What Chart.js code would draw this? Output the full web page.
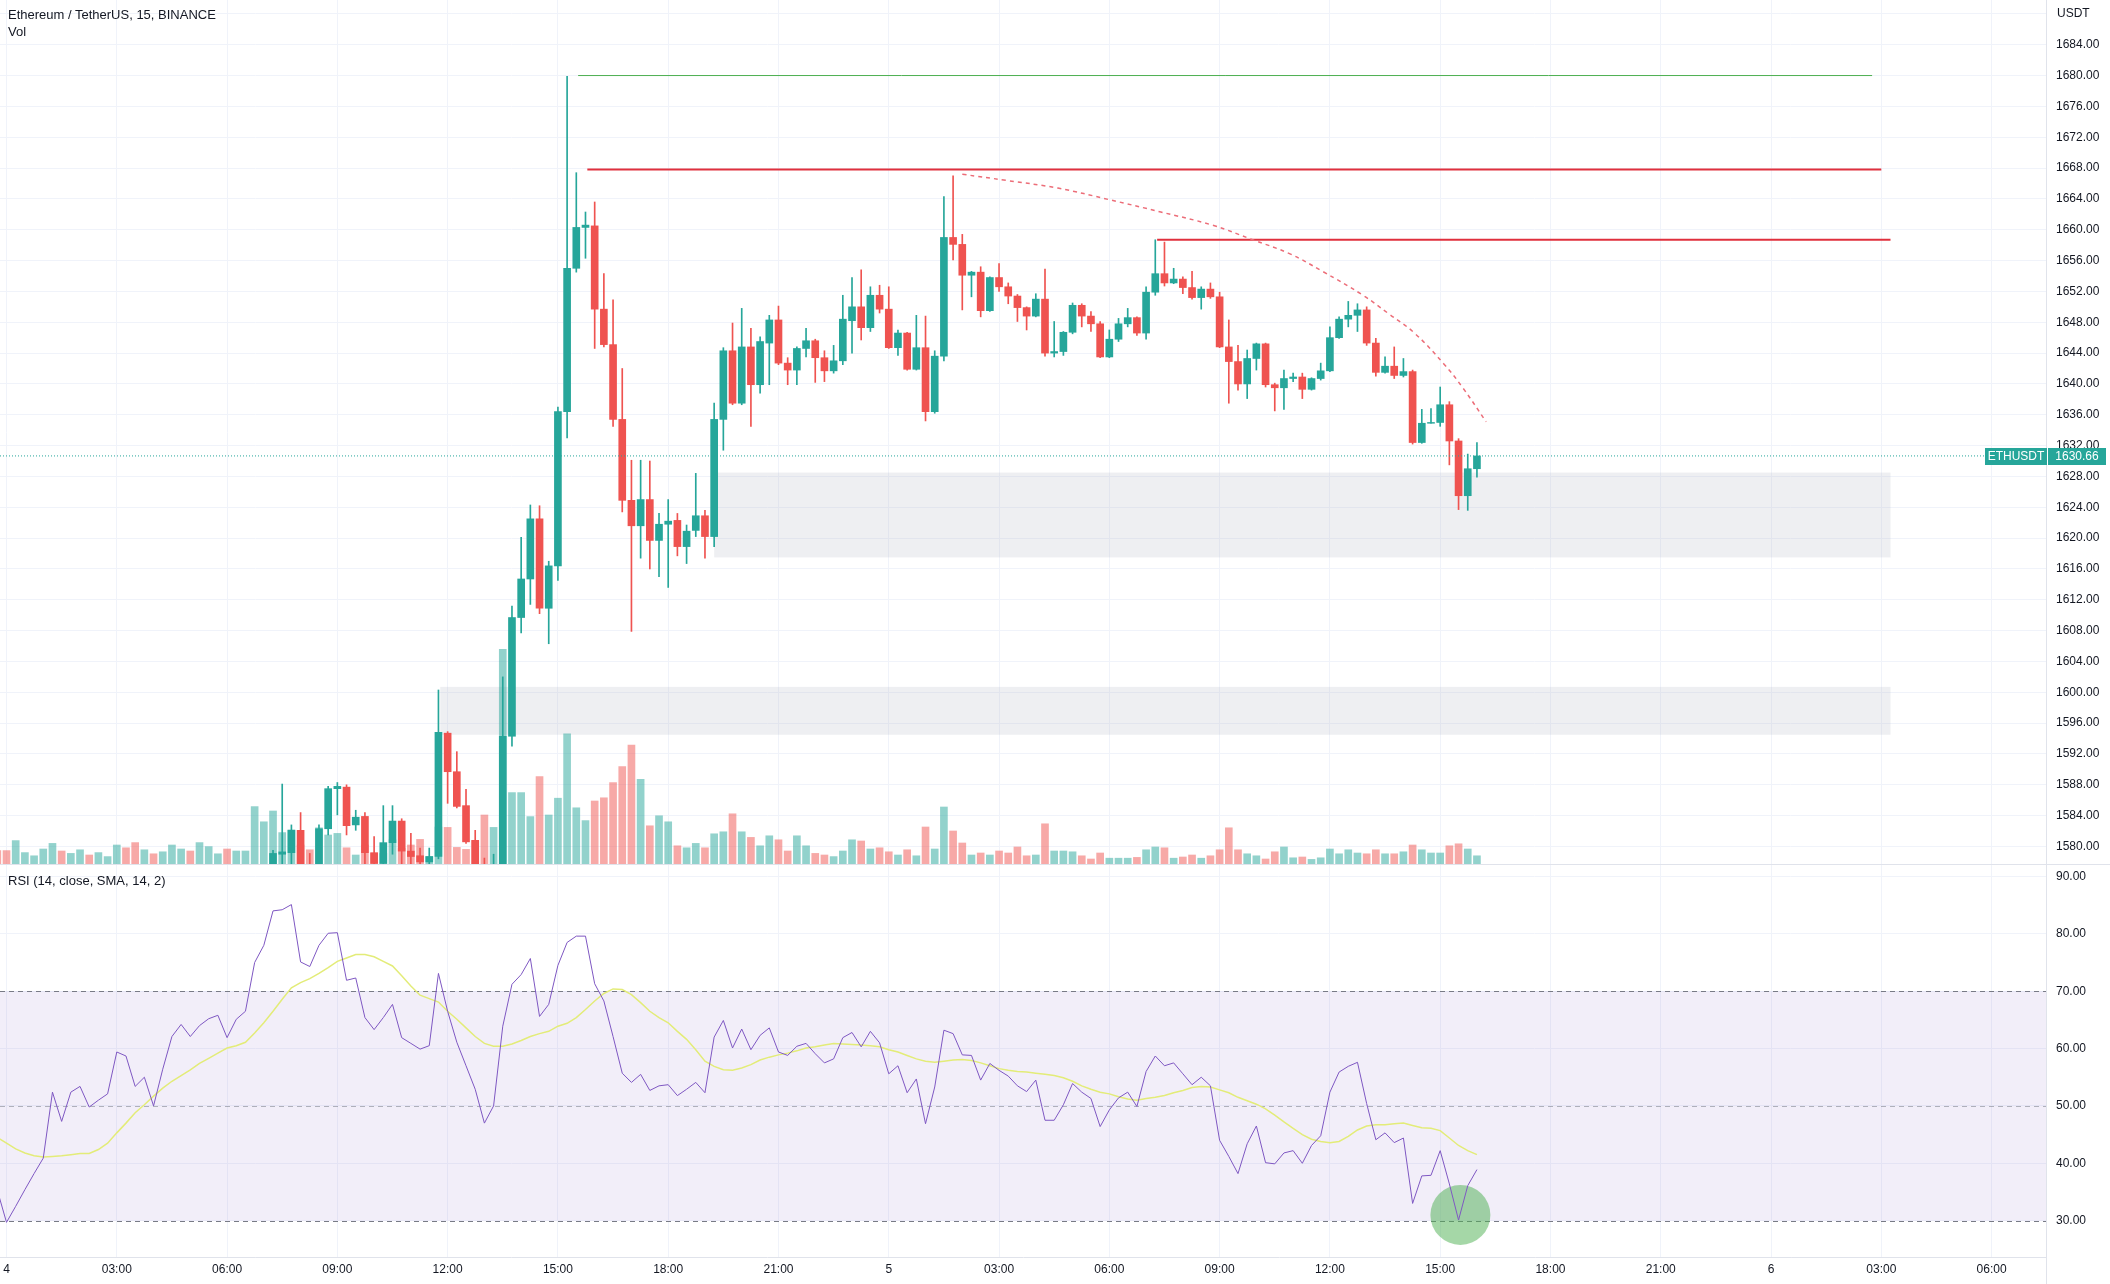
<!DOCTYPE html>
<html>
<head>
<meta charset="utf-8">
<title>ETHUSDT 15m</title>
<script src="https://cdn.jsdelivr.net/npm/chart.js@4.4.0/dist/chart.umd.min.js"></script>
<style>
  html, body { margin: 0; padding: 0; background: #fff; }
  #wrap { position: relative; width: 2110px; height: 1284px; overflow: hidden;
          font-family: "Liberation Sans", Arial, sans-serif; color: #131722; }
  canvas { position: absolute; left: 0; }
  #main { top: 0; }
  #rsi { top: 865px; }
  .legend { position: absolute; left: 8px; font-size: 13px; line-height: 16px; white-space: nowrap; }
  .sep { position: absolute; left: 0; top: 864px; width: 2110px; height: 1px; background: #e0e3eb; }
  .vline { position: absolute; left: 2046px; top: 1257px; width: 1px; height: 27px; background: #e0e3eb; }
  #ccy { position: absolute; left: 2057px; top: 6px; font-size: 12px; line-height: 14px; }
  #lastTag { position: absolute; left: 1985px; top: 448px; height: 17px; display: flex; gap: 1px;
             font-size: 12px; color: #fff; }
  #lastTag span { background: #26a69a; line-height: 17px; text-align: center; }
  #symTag { width: 62px; }
  #priceTag { width: 58px; }
</style>
</head>
<body>
<div id="wrap">
  <canvas id="main" width="2110" height="865"></canvas>
  <canvas id="rsi" width="2110" height="419"></canvas>
  <div class="sep"></div>
  <div class="vline"></div>
  <div class="legend" style="top:7px">Ethereum / TetherUS, 15, BINANCE</div>
  <div class="legend" style="top:24px">Vol</div>
  <div class="legend" style="top:873px">RSI (14, close, SMA, 14, 2)</div>
  <div id="ccy">USDT</div>
  <div id="lastTag"><span id="symTag">ETHUSDT</span><span id="priceTag"></span></div>
</div>
<script>
// bars are 15 minutes; x values are hours since day 4, 00:00
const hoursPerBar = 0.25;
const startDay = 4;
const firstCandle = 29;   // first candle visible in the price range
const firstBar = -1;      // first volume / RSI bar

// candles 29 .. 160
const opens = [
  1577.7, 1579.0, 1579.2, 1582.1, 1577.2, 1576.6, 1582.3, 1587.5, 1587.7, 1582.8,
  1583.9, 1579.2, 1577.8, 1580.5, 1583.3, 1579.4, 1578.8, 1578.0, 1578.7, 1594.7,
  1589.7, 1585.3, 1580.8, 1577.5, 1575.0, 1576.5, 1594.3, 1609.7, 1614.7, 1622.5,
  1610.9, 1616.4, 1636.4, 1655.0, 1660.3, 1660.5, 1649.7, 1645.1, 1635.4, 1624.9,
  1621.6, 1625.0, 1619.7, 1621.8, 1622.3, 1618.9, 1621.0, 1622.9, 1620.2, 1635.4,
  1644.3, 1637.5, 1644.8, 1639.9, 1645.3, 1648.3, 1642.7, 1641.8, 1644.6, 1645.6,
  1643.4, 1641.7, 1643.0, 1648.2, 1650.0, 1647.3, 1651.5, 1649.7, 1644.7, 1646.6,
  1641.9, 1644.7, 1636.4, 1643.6, 1659.0, 1658.1, 1654.1, 1654.5, 1649.5, 1653.8,
  1652.6, 1651.4, 1649.9, 1648.8, 1651.0, 1644.0, 1644.2, 1646.7, 1650.2, 1648.8,
  1647.8, 1643.5, 1645.8, 1647.8, 1648.6, 1646.6, 1651.9, 1654.3, 1653.1, 1653.6,
  1652.5, 1651.2, 1652.3, 1651.3, 1644.8, 1642.9, 1640.0, 1643.3, 1645.2, 1639.9,
  1639.5, 1640.7, 1640.9, 1639.3, 1640.7, 1641.7, 1646.0, 1648.4, 1648.9, 1649.6,
  1645.3, 1641.5, 1642.3, 1641.1, 1641.6, 1632.4, 1634.9, 1635.0, 1637.3, 1632.6,
  1625.5, 1629.0
];
const highs = [
  1579.5, 1588.1, 1582.8, 1584.4, 1579.1, 1582.8, 1587.8, 1588.3, 1588.0, 1584.7,
  1584.4, 1581.3, 1585.3, 1585.3, 1583.6, 1581.7, 1579.8, 1579.8, 1600.3, 1594.9,
  1592.3, 1587.4, 1582.1, 1578.5, 1579.0, 1602.0, 1611.2, 1620.1, 1624.3, 1624.2,
  1617.0, 1637.0, 1679.9, 1667.4, 1662.3, 1663.6, 1654.3, 1650.9, 1642.0, 1630.1,
  1630.1, 1630.0, 1623.2, 1625.0, 1623.2, 1621.7, 1628.4, 1623.6, 1637.5, 1644.7,
  1647.9, 1649.8, 1647.2, 1646.1, 1648.9, 1650.1, 1643.4, 1644.8, 1647.2, 1645.8,
  1644.3, 1645.0, 1651.5, 1653.8, 1654.8, 1652.6, 1652.8, 1652.6, 1647.0, 1646.7,
  1648.9, 1648.8, 1644.3, 1664.3, 1667.0, 1659.4, 1654.6, 1655.2, 1653.9, 1655.6,
  1653.1, 1651.6, 1650.0, 1651.7, 1654.9, 1648.1, 1646.8, 1650.5, 1650.4, 1649.4,
  1648.1, 1647.0, 1648.5, 1649.8, 1648.7, 1652.6, 1658.7, 1658.4, 1655.0, 1653.9,
  1654.6, 1652.6, 1653.1, 1651.9, 1648.3, 1645.0, 1644.4, 1645.3, 1645.3, 1640.1,
  1641.8, 1641.4, 1641.4, 1640.8, 1642.7, 1647.4, 1648.7, 1650.7, 1650.4, 1650.0,
  1645.9, 1643.5, 1644.8, 1643.3, 1641.8, 1636.7, 1636.8, 1639.6, 1637.7, 1632.9,
  1630.9, 1632.4
];
const lows = [
  1576.8, 1577.7, 1577.6, 1576.5, 1575.5, 1576.0, 1581.5, 1584.1, 1581.5, 1582.1,
  1577.7, 1577.6, 1577.6, 1579.0, 1577.7, 1577.7, 1577.5, 1577.6, 1578.4, 1585.6,
  1585.0, 1580.4, 1576.5, 1574.0, 1573.5, 1575.5, 1593.0, 1607.7, 1611.4, 1610.2,
  1606.3, 1614.5, 1633.0, 1654.5, 1656.3, 1644.6, 1644.8, 1634.5, 1623.4, 1607.9,
  1617.4, 1616.0, 1615.0, 1613.6, 1617.7, 1616.7, 1620.2, 1617.4, 1618.9, 1631.4,
  1637.3, 1637.3, 1634.5, 1638.8, 1639.9, 1642.5, 1639.9, 1639.9, 1643.5, 1640.2,
  1640.3, 1641.4, 1642.5, 1644.0, 1645.7, 1646.8, 1649.2, 1644.6, 1643.7, 1641.8,
  1641.8, 1635.2, 1636.2, 1643.0, 1656.1, 1649.6, 1651.3, 1648.7, 1649.4, 1652.0,
  1650.4, 1648.1, 1647.0, 1648.7, 1643.6, 1643.5, 1643.7, 1646.5, 1647.4, 1646.8,
  1643.4, 1643.4, 1645.5, 1647.4, 1646.3, 1645.8, 1651.5, 1652.7, 1653.0, 1651.7,
  1651.0, 1649.7, 1651.1, 1644.7, 1637.5, 1639.2, 1638.1, 1641.8, 1639.6, 1636.5,
  1636.7, 1640.3, 1638.1, 1639.2, 1640.5, 1641.6, 1645.9, 1647.4, 1646.8, 1645.0,
  1641.0, 1641.4, 1640.7, 1640.9, 1632.2, 1632.3, 1634.9, 1634.5, 1629.5, 1623.7,
  1623.6, 1627.9
];
const closes = [
  1579.1, 1579.3, 1582.1, 1577.2, 1576.6, 1582.3, 1587.5, 1587.8, 1582.7, 1583.8,
  1579.2, 1577.8, 1580.5, 1583.3, 1579.4, 1578.7, 1578.0, 1578.7, 1594.8, 1589.7,
  1585.2, 1580.6, 1577.5, 1575.0, 1576.5, 1594.3, 1609.7, 1614.7, 1622.5, 1610.9,
  1616.4, 1636.4, 1655.0, 1660.3, 1660.6, 1649.7, 1645.1, 1635.4, 1624.9, 1621.6,
  1625.0, 1619.7, 1621.8, 1622.2, 1618.9, 1620.9, 1622.9, 1620.2, 1635.4, 1644.3,
  1637.5, 1644.8, 1639.9, 1645.5, 1648.3, 1642.7, 1641.8, 1644.6, 1645.6, 1643.4,
  1641.7, 1643.0, 1648.4, 1650.0, 1647.3, 1651.5, 1649.7, 1644.7, 1646.6, 1641.9,
  1644.7, 1636.4, 1643.6, 1659.0, 1658.1, 1654.1, 1654.5, 1649.5, 1653.8, 1652.6,
  1651.4, 1649.9, 1648.8, 1651.0, 1644.0, 1644.2, 1646.7, 1650.2, 1648.8, 1647.8,
  1643.5, 1645.8, 1647.8, 1648.6, 1646.6, 1651.9, 1654.3, 1653.1, 1653.6, 1652.5,
  1651.2, 1652.3, 1651.3, 1644.8, 1642.9, 1640.0, 1643.3, 1645.2, 1639.9, 1639.5,
  1640.7, 1640.9, 1639.3, 1640.7, 1641.7, 1646.0, 1648.4, 1648.9, 1649.6, 1645.3,
  1641.5, 1642.3, 1641.1, 1641.6, 1632.4, 1634.9, 1635.0, 1637.3, 1632.6, 1625.5,
  1629.0, 1630.66
];

// volume (thousand ETH), bars -1 .. 160
const volumes = [
  3.6, 3.6, 6.1, 3.1, 2.3, 4.0, 5.4, 3.5, 2.9, 3.8,
  2.5, 3.1, 2.1, 5.0, 4.3, 5.6, 3.8, 2.8, 3.3, 5.0,
  4.0, 3.5, 5.6, 4.6, 2.8, 4.0, 3.5, 3.5, 14.6, 10.8,
  13.5, 8.1, 8.8, 5.0, 3.8, 9.3, 7.5, 7.9, 4.3, 2.5,
  5.0, 2.9, 2.9, 6.3, 4.2, 5.0, 6.4, 2.1, 9.5, 9.4,
  4.4, 3.9, 6.1, 12.5, 9.4, 53.9, 18.1, 18.1, 12.1, 22.1,
  12.5, 16.7, 32.8, 14.3, 11.1, 16.0, 16.8, 20.6, 24.6, 30.0,
  21.4, 9.8, 12.3, 10.8, 4.8, 4.3, 5.4, 4.3, 7.8, 8.3,
  12.8, 8.3, 6.9, 4.8, 7.3, 6.3, 3.5, 7.3, 4.8, 2.9,
  2.5, 2.1, 3.5, 6.3, 6.0, 4.0, 4.3, 3.3, 2.5, 3.8,
  2.3, 9.5, 4.0, 14.5, 8.5, 5.5, 2.5, 3.0, 2.5, 3.5,
  3.0, 4.5, 2.3, 2.5, 10.3, 3.5, 3.5, 3.3, 2.3, 1.5,
  3.0, 1.7, 1.7, 1.7, 1.9, 3.8, 4.5, 4.3, 1.7, 2.0,
  2.5, 1.7, 2.3, 3.8, 9.3, 3.8, 2.8, 2.3, 1.5, 3.3,
  4.5, 1.8, 2.0, 1.4, 1.8, 4.0, 2.8, 3.8, 3.0, 2.8,
  3.8, 2.8, 2.8, 3.3, 5.0, 3.8, 3.0, 3.0, 4.8, 5.3,
  4.0, 2.3
];
// up / down for the volume bars before the first visible candle (bars -1 .. 28)
const earlyVolDir = 'dduuuuuduuduuudduduuuduuuduuuu';

// RSI (14) and its SMA, bars -1 .. 160
const rsiValues = [
  35.3, 29.7, 32.5, 35.4, 38.2, 40.9, 52.4, 47.3, 52.4, 53.4,
  49.8, 51.0, 52.1, 59.4, 58.7, 53.4, 55.0, 50.0, 56.4, 62.1,
  64.2, 62.1, 64.0, 65.2, 65.8, 61.9, 65.1, 66.5, 75.0, 78.0,
  84.0, 84.2, 85.1, 75.1, 74.3, 78.0, 80.1, 80.2, 71.9, 72.3,
  65.4, 63.3, 65.4, 67.7, 61.9, 60.9, 59.9, 60.5, 73.1, 66.5,
  61.1, 57.0, 52.9, 47.0, 50.0, 63.9, 71.2, 72.9, 75.7, 65.6,
  67.7, 74.5, 78.5, 79.6, 79.6, 71.3, 68.3, 62.1, 55.7, 54.1,
  55.5, 52.7, 53.5, 53.7, 51.8, 52.9, 54.1, 52.3, 62.0, 64.9,
  60.1, 63.4, 59.8, 62.3, 63.6, 59.4, 58.8, 60.4, 60.9, 59.1,
  57.5, 58.2, 61.9, 62.8, 60.3, 63.0, 61.0, 55.6, 57.0, 52.3,
  54.7, 46.9, 53.3, 63.2, 62.6, 58.9, 58.8, 54.5, 57.4, 56.2,
  55.2, 53.5, 52.5, 54.5, 47.5, 47.5, 50.2, 53.9, 52.4, 51.3,
  46.4, 49.3, 51.4, 52.4, 49.9, 56.0, 58.7, 57.0, 57.5, 55.6,
  53.7, 55.0, 53.5, 44.0, 41.2, 38.2, 43.4, 46.5, 40.1, 39.9,
  41.8, 42.2, 40.0, 43.1, 44.8, 52.4, 55.9, 56.9, 57.6, 50.4,
  44.1, 45.3, 43.6, 44.4, 33.0, 37.8, 37.9, 42.2, 36.4, 30.1,
  36.1, 38.9
];
const rsiMA = [
  44.5, 43.5, 42.5, 41.8, 41.3, 41.1, 41.2, 41.3, 41.5, 41.7,
  41.7, 42.4, 43.5, 45.3, 47.0, 48.8, 50.2, 51.7, 53.1, 54.3,
  55.3, 56.3, 57.4, 58.3, 59.2, 60.1, 60.5, 61.1, 62.7, 64.5,
  66.5, 68.6, 70.6, 71.5, 72.2, 73.1, 74.1, 75.2, 75.8, 76.4,
  76.4, 76.0, 75.2, 74.4, 72.7, 70.9, 69.3, 68.7, 68.1, 66.5,
  65.1, 63.6, 62.1, 60.9, 60.4, 60.4, 60.8, 61.4, 62.1, 62.6,
  63.0, 63.9, 64.4, 65.4, 66.8, 68.3, 69.6, 70.4, 70.3, 69.4,
  68.0, 66.5, 65.4, 64.5, 63.0, 61.6, 59.8, 57.8, 56.9, 56.3,
  56.2, 56.6, 57.2, 58.0, 58.5, 58.9, 59.2, 59.6, 60.1, 60.3,
  60.6, 60.9, 60.8, 60.7, 60.6, 60.5, 60.3, 59.8, 59.4, 58.8,
  58.2, 57.8, 57.6, 57.8, 58.0, 58.1, 57.9, 57.5, 57.0, 56.5,
  56.2, 56.0, 55.9, 55.7, 55.5, 55.3, 54.9, 54.3, 53.5, 52.9,
  52.4, 52.1, 51.6, 51.2, 51.0, 51.3, 51.5, 51.8, 52.3, 52.7,
  53.2, 53.4, 53.3, 52.8, 52.3, 51.5, 50.9, 50.3, 49.5, 48.4,
  47.2, 46.1, 45.0, 44.2, 43.8, 43.6, 43.8, 44.7, 45.8, 46.5,
  46.7, 46.7, 46.9, 47.0, 46.6, 46.2, 46.1, 45.7, 44.4, 43.1,
  42.2, 41.5
];
const rsiLevels = [70, 50, 30];

// drawings: horizontal levels, grey zones, dashed arc, RSI circle
const levelPrices = [1680.0, 1667.8, 1658.7];
const levelStart = [15.55, 15.8, 31.3];
const levelEnd = [50.75, 51.0, 51.25];
const zoneTop = [1628.5, 1600.7];
const zoneBottom = [1617.5, 1594.5];
const zoneStart = [19.25, 11.8];
const zoneEnd = [51.25, 51.25];
const arcTime = [26.0, 27.2, 28.6, 30.0, 31.4, 32.8, 33.9, 34.9, 35.8, 36.9, 37.6, 38.3, 39.1, 39.6, 40.25];
const arcPrice = [1667.2, 1666.4, 1665.4, 1663.9, 1662.3, 1660.6, 1658.7, 1656.9, 1654.6, 1651.5, 1649.1, 1646.6, 1642.6, 1639.6, 1635.1];
const circleTime = 39.55;
const circleRsi = 31.0;

const UP = '#26a69a', DOWN = '#ef5350';
const UP_VOL = 'rgba(38,166,154,0.5)', DOWN_VOL = 'rgba(239,83,80,0.5)';
const GRID = '#f0f3fa';
const xMin = -0.177, xMax = 55.48;

Chart.defaults.font.family = '"Liberation Sans", Arial, sans-serif';
Chart.defaults.font.size = 12;
Chart.defaults.color = '#131722';

const hourOf = i => i * hoursPerBar;
const lastClose = closes[closes.length - 1];
document.getElementById('priceTag').textContent = lastClose.toFixed(2);

// keep the plot area flush with the canvas edges, axis 64px wide
const fitPriceAxis = s => { s.width = 64; s.paddingTop = 0; s.paddingBottom = 0; };
const fitTimeAxis = h => s => { s.height = h; s.paddingLeft = 0; s.paddingRight = 0; };

const candleX = opens.map((_, k) => hourOf(firstCandle + k));
const candleColors = opens.map((o, k) => closes[k] >= o ? UP : DOWN);
const volColors = volumes.map((_, k) => {
  const i = firstBar + k;
  const up = i >= firstCandle ? closes[i - firstCandle] >= opens[i - firstCandle] : earlyVolDir[k] === 'u';
  return up ? UP_VOL : DOWN_VOL;
});

const zonesPlugin = {
  id: 'zones',
  beforeDatasetsDraw(chart) {
    const { ctx, chartArea: a, scales: { x, y } } = chart;
    ctx.save();
    ctx.beginPath();
    ctx.rect(a.left, a.top, a.width, a.height);
    ctx.clip();
    ctx.fillStyle = 'rgba(178,181,196,0.22)';
    zoneTop.forEach((top, k) => {
      const x0 = x.getPixelForValue(zoneStart[k]), x1 = x.getPixelForValue(zoneEnd[k]);
      const y0 = y.getPixelForValue(top), y1 = y.getPixelForValue(zoneBottom[k]);
      ctx.fillRect(x0, y0, x1 - x0, y1 - y0);
    });
    ctx.restore();
  },
  afterDraw(chart) {
    const y = chart.scales.y.getPixelForValue(lastClose);
    document.getElementById('lastTag').style.top = Math.round(y - 8) + 'px';
  }
};

const levelColors = ['#4caf50', '#e0303d', '#e0303d'];
const levelWidths = [1, 2, 2];

new Chart(document.getElementById('main'), {
  type: 'bar',
  data: {
    datasets: [
      {
        type: 'line',
        data: [{ x: xMin, y: lastClose }, { x: xMax, y: lastClose }],
        borderColor: UP, borderWidth: 1, borderDash: [1, 2],
        pointRadius: 0, order: 0
      },
      {
        type: 'line',
        data: arcTime.map((t, k) => ({ x: t, y: arcPrice[k] })),
        borderColor: '#ec6d78', borderWidth: 1.5, borderDash: [4, 4],
        tension: 0.4, pointRadius: 0, order: 1
      },
      ...levelPrices.map((p, k) => ({
        type: 'line',
        data: [{ x: levelStart[k], y: p }, { x: levelEnd[k], y: p }],
        borderColor: levelColors[k], borderWidth: levelWidths[k],
        pointRadius: 0, order: 1
      })),
      {
        label: 'bodies',
        data: candleX.map((x, k) => ({ x, y: [opens[k], closes[k]] })),
        backgroundColor: candleColors,
        barThickness: 7, grouped: false, order: 2
      },
      {
        label: 'wicks',
        data: candleX.map((x, k) => ({ x, y: [lows[k], highs[k]] })),
        backgroundColor: candleColors,
        barThickness: 1, grouped: false, order: 3
      },
      {
        label: 'volume',
        yAxisID: 'vol',
        data: volumes.map((v, k) => ({ x: hourOf(firstBar + k), y: v })),
        backgroundColor: volColors,
        barThickness: 7, grouped: false, order: 4
      }
    ]
  },
  options: {
    responsive: false,
    animation: false,
    layout: { padding: 0, autoPadding: false },
    plugins: { legend: { display: false }, tooltip: { enabled: false } },
    scales: {
      x: {
        type: 'linear', min: xMin, max: xMax, offset: false,
        ticks: { display: false, stepSize: 3, includeBounds: false },
        grid: { color: GRID, drawTicks: false, offset: false },
        border: { display: false },
        afterFit: fitTimeAxis(0)
      },
      y: {
        position: 'right', min: 1577.6, max: 1689.8,
        ticks: {
          stepSize: 4, includeBounds: false, padding: 10,
          callback: v => v > 1686 ? '' : v.toFixed(2)
        },
        grid: { color: GRID, drawTicks: false },
        border: { color: '#e0e3eb' },
        afterFit: fitPriceAxis
      },
      vol: { display: false, min: 0, max: 216.25 }
    }
  },
  plugins: [zonesPlugin]
});

const rsiBandPlugin = {
  id: 'rsiBands',
  beforeDatasetsDraw(chart) {
    const { ctx, chartArea: a, scales: { y } } = chart;
    const top = y.getPixelForValue(rsiLevels[0]);
    const bottom = y.getPixelForValue(rsiLevels[rsiLevels.length - 1]);
    ctx.save();
    ctx.fillStyle = 'rgba(126,87,194,0.1)';
    ctx.fillRect(a.left, top, a.width, bottom - top);
    ctx.lineWidth = 1;
    ctx.setLineDash([5, 4]);
    rsiLevels.forEach(lv => {
      const yy = Math.round(y.getPixelForValue(lv)) + 0.5;
      ctx.strokeStyle = lv === 50 ? 'rgba(120,123,134,0.55)' : '#787b86';
      ctx.beginPath();
      ctx.moveTo(a.left, yy);
      ctx.lineTo(a.right, yy);
      ctx.stroke();
    });
    ctx.restore();
  }
};

new Chart(document.getElementById('rsi'), {
  type: 'line',
  data: {
    datasets: [
      {
        data: rsiValues.map((v, k) => ({ x: hourOf(firstBar + k), y: v })),
        borderColor: '#7e57c2', borderWidth: 1, pointRadius: 0, order: 1
      },
      {
        data: rsiMA.map((v, k) => ({ x: hourOf(firstBar + k), y: v })),
        borderColor: '#e3ec78', borderWidth: 1.5, pointRadius: 0, order: 2
      },
      {
        type: 'bubble',
        data: [{ x: circleTime, y: circleRsi, r: 30 }],
        backgroundColor: 'rgba(76,175,80,0.5)', borderWidth: 0, order: 3
      }
    ]
  },
  options: {
    responsive: false,
    animation: false,
    layout: { padding: 0, autoPadding: false },
    plugins: { legend: { display: false }, tooltip: { enabled: false } },
    scales: {
      x: {
        type: 'linear', min: xMin, max: xMax, offset: false,
        ticks: {
          stepSize: 3, includeBounds: false, autoSkip: false, maxRotation: 0, padding: 5,
          callback: v => {
            const h = Math.round(v);
            if (h % 24 === 0) return String(startDay + h / 24);
            return String(h % 24).padStart(2, '0') + ':00';
          }
        },
        grid: { color: GRID, drawTicks: false },
        border: { color: '#e0e3eb' },
        afterFit: fitTimeAxis(27)
      },
      y: {
        position: 'right', min: 23.66, max: 92.0,
        ticks: { stepSize: 10, includeBounds: false, padding: 10, callback: v => v.toFixed(2) },
        grid: { color: GRID, drawTicks: false },
        border: { color: '#e0e3eb' },
        afterFit: fitPriceAxis
      }
    }
  },
  plugins: [rsiBandPlugin]
});
</script>
</body>
</html>
